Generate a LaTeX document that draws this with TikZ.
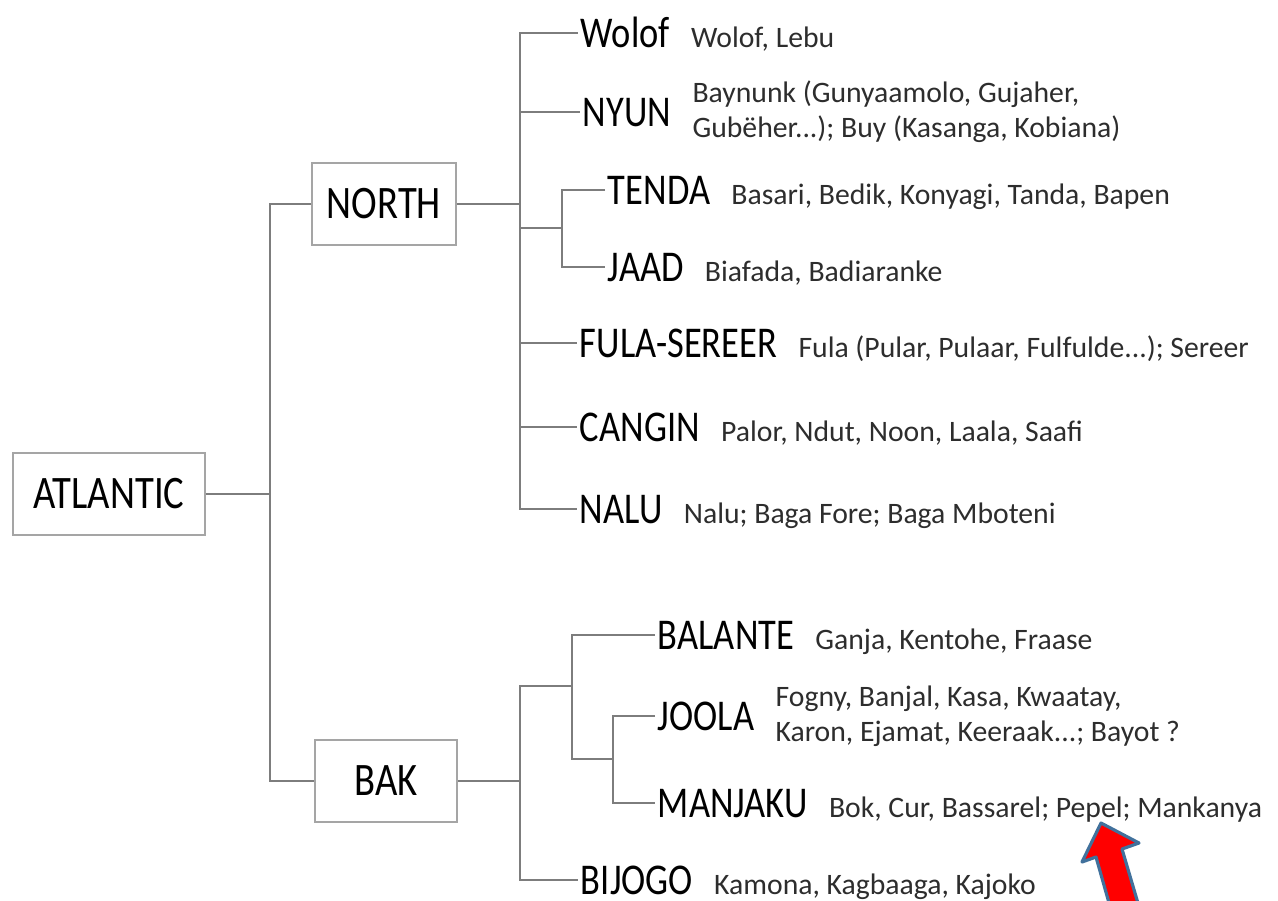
\documentclass[tikz,border=0pt]{standalone}
\usepackage{fontspec}
\setmainfont{Carlito}
\usepackage{graphicx}
\usetikzlibrary{positioning}
\definecolor{linegray}{RGB}{125,125,125}
\definecolor{boxgray}{RGB}{165,165,165}
\definecolor{descgray}{RGB}{45,45,45}
\definecolor{arrowblue}{RGB}{65,113,156}
\newcommand{\squash}[1]{\scalebox{0.83}[1]{#1}}

\begin{document}
\begin{tikzpicture}[x=0.02cm,y=-0.02cm,
  link/.style={draw=linegray,line width=1.4pt},
  box/.style={draw=boxgray,line width=1.1pt,minimum height=1.65cm,inner sep=0pt,
    font=\fontsize{26.5}{30}\selectfont},
  fam/.style={anchor=west,inner sep=0pt,inner xsep=1.5pt,text height=0.57cm,text depth=0pt,
    font=\fontsize{25}{30}\selectfont},
  desc/.style={inner sep=0pt,text=descgray,font=\fontsize{16.9}{19.8}\selectfont},
  node distance=0.36cm]
  \useasboundingbox (0,0) rectangle (1278,900);
  \node[box,minimum width=3.84cm] (atlantic) at (109,494) {\squash{ATLANTIC}};
  \node[box,minimum width=2.88cm] (north) at (384,204) {\squash{NORTH}};
  \node[box,minimum width=2.84cm] (bak) at (386,781) {\squash{BAK}};
  \node[fam] (wolof) at (578,33) {\squash{Wolof}};
  \node[fam] (nyun) at (580,112) {\squash{NYUN}};
  \node[fam] (tenda) at (605,190) {\squash{TENDA}};
  \node[fam] (jaad) at (605,267) {\squash{JAAD}};
  \node[fam] (fula) at (577,343) {\squash{FULA-SEREER}};
  \node[fam] (cangin) at (577,427) {\squash{CANGIN}};
  \node[fam] (nalu) at (577,509) {\squash{NALU}};
  \node[fam] (balante) at (655,635) {\squash{BALANTE}};
  \node[fam] (joola) at (655,716) {\squash{JOOLA}};
  \node[fam] (manjaku) at (655,803) {\squash{MANJAKU}};
  \node[fam] (bijogo) at (578,880) {\squash{BIJOGO}};
  \node[desc,base right=of wolof] (wolof-l) {Wolof, Lebu};
  \node[desc,align=left,right=of nyun] (nyun-l) {Baynunk (Gunyaamolo, Gujaher,\\Gubëher...); Buy (Kasanga, Kobiana)};
  \node[desc,base right=of tenda] (tenda-l) {Basari, Bedik, Konyagi, Tanda, Bapen};
  \node[desc,base right=of jaad] (jaad-l) {Biafada, Badiaranke};
  \node[desc,base right=of fula] (fula-l) {Fula (Pular, Pulaar, Fulfulde...); Sereer};
  \node[desc,base right=of cangin] (cangin-l) {Palor, Ndut, Noon, Laala, Saafi};
  \node[desc,base right=of nalu] (nalu-l) {Nalu; Baga Fore; Baga Mboteni};
  \node[desc,base right=of balante] (balante-l) {Ganja, Kentohe, Fraase};
  \node[desc,align=left,right=of joola] (joola-l) {Fogny, Banjal, Kasa, Kwaatay,\\Karon, Ejamat, Keeraak...; Bayot ?};
  \node[desc,base right=of manjaku] (manjaku-l) {Bok, Cur, Bassarel; Pepel; Mankanya};
  \node[desc,base right=of bijogo] (bijogo-l) {Kamona, Kagbaaga, Kajoko};
  \coordinate (jatl) at (270,494);
  \coordinate (jnorth) at (520,204);
  \coordinate (jtenda) at (562,228);
  \coordinate (jbak) at (520,781);
  \coordinate (jbal) at (572,686);
  \coordinate (jjoola) at (613,759);
  \draw[link] (atlantic) -- (jatl);
  \draw[link] (north.west) -| (jatl) |- (bak.west);
  \draw[link] (north) -- (jnorth);
  \foreach \t in {wolof.west,nyun.west,jtenda,fula.west,cangin.west,nalu.west}
    \draw[link] (jnorth) |- (\t);
  \draw[link] (tenda.west) -| (jtenda) |- (jaad.west);
  \draw[link] (bak) -- (jbak);
  \draw[link] (jbak) |- (bijogo.west);
  \draw[link] (jbak) |- (jbal);
  \draw[link] (balante.west) -| (jbal) |- (jjoola);
  \draw[link] (joola.west) -| (jjoola) |- (manjaku.west);
  \begin{scope}
    \clip (0,0) rectangle (1278,900);
    \draw[draw=arrowblue,fill=red,line width=1.8pt,line join=round]
      (1101,823) -- (1139,843) -- (1122,849) -- (1140,910) -- (1111,910)
      -- (1096,857) -- (1082,862) -- cycle;
  \end{scope}
\end{tikzpicture}
\end{document}
